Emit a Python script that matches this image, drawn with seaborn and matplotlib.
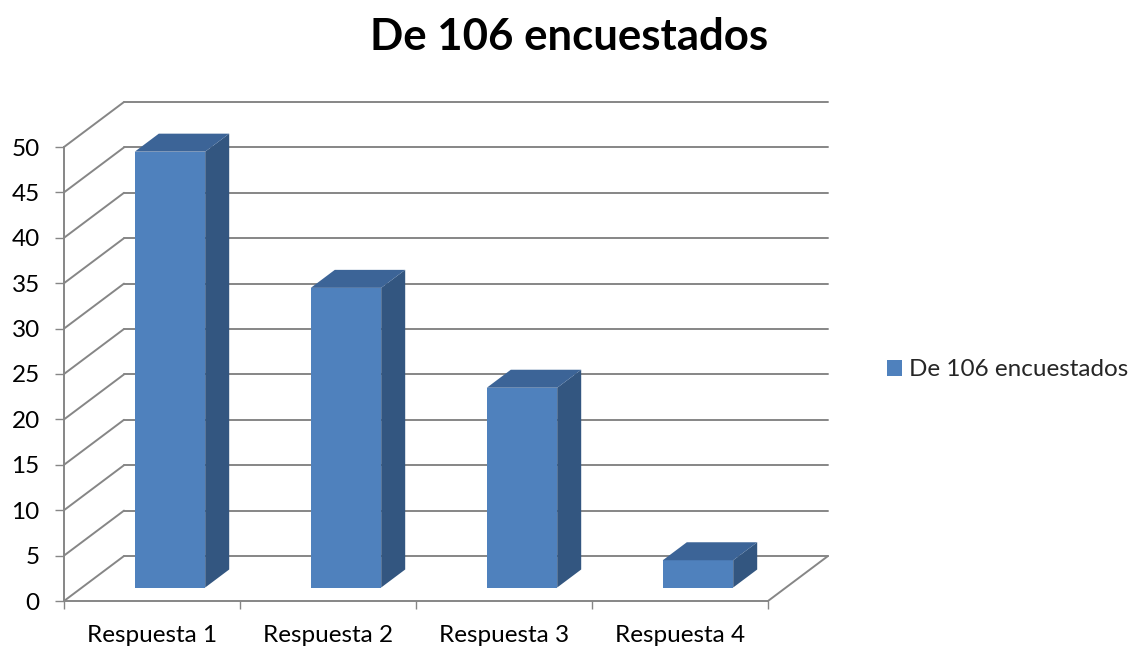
import matplotlib
matplotlib.use('Agg')
import matplotlib.pyplot as plt
from matplotlib.patches import Polygon, Patch
from matplotlib.lines import Line2D
from matplotlib.transforms import IdentityTransform
import numpy as np
import pandas as pd
import seaborn as sns

categorias = ['Respuesta 1', 'Respuesta 2', 'Respuesta 3', 'Respuesta 4']
valores = [48, 33, 22, 3]
serie = 'De 106 encuestados'
titulo = 'De 106 encuestados'
yticks = [0, 5, 10, 15, 20, 25, 30, 35, 40, 45, 50]

sns.set_theme(style='white')
plt.rcParams['font.family'] = ['Lato', 'DejaVu Sans']

W, H = 1130, 649
fig = plt.figure(figsize=(W / 100, H / 100), dpi=100)
ax = fig.add_axes([64 / W, (H - 601) / H, (768 - 64) / W, (601 - 147) / H])

df = pd.DataFrame({'categoria': categorias, 'valor': valores})
sns.barplot(data=df, x='categoria', y='valor', color='#4F81BD', width=0.4,
            saturation=1, ax=ax, zorder=5)
ax.set_xlim(-0.5, len(categorias) - 0.5)
ax.set_ylim(0, 50)

# 3D look: depth vector of the floor/walls in pixels
DEPTH = np.array([60.0, 45.0])
gris = '#868686'


def pt(x, y, d=0.0):
    p = ax.transData.transform((x, y))
    return p + d * DEPTH


def linea(p0, p1, **kw):
    ln = Line2D([p0[0], p1[0]], [p0[1], p1[1]], transform=IdentityTransform(),
                color=gris, lw=1.4, zorder=1, clip_on=False, **kw)
    fig.add_artist(ln)


x0, x1 = ax.get_xlim()
for v in yticks:
    linea(pt(x0, v, 1), pt(x1, v, 1))      # back wall
    linea(pt(x0, v, 0), pt(x0, v, 1))      # left wall
linea(pt(x1, 0, 0), pt(x1, 0, 1))          # floor right edge

# bars: front face pushed to depth 0.3, box depth 0.4
for p in list(ax.patches):
    bx, bw, bh = p.get_x(), p.get_width(), p.get_height()
    a = pt(bx, 0, 0.3)
    b = pt(bx + bw, 0, 0.3)
    c = pt(bx + bw, bh, 0.3)
    d = pt(bx, bh, 0.3)
    off = 0.4 * DEPTH
    p.set_visible(False)
    frente = Polygon([a, b, c, d], closed=True, transform=IdentityTransform(),
                     facecolor='#4F81BD', edgecolor='none', zorder=5)
    lado = Polygon([b, b + off, c + off, c], closed=True, transform=IdentityTransform(),
                   facecolor='#335680', edgecolor='none', zorder=5)
    tapa = Polygon([d, c, c + off, d + off], closed=True, transform=IdentityTransform(),
                   facecolor='#3C6497', edgecolor='none', zorder=5)
    for poly in (frente, lado, tapa):
        fig.add_artist(poly)

# axes styling
for s in ['top', 'right']:
    ax.spines[s].set_visible(False)
for s in ['left', 'bottom']:
    ax.spines[s].set_color(gris)
    ax.spines[s].set_linewidth(1.4)
ax.set_yticks(yticks)
ax.tick_params(axis='y', left=True, length=6.5, width=1.0, color=gris, pad=11,
               labelsize=17.5, labelcolor='black')
ax.set_xticks(np.arange(-0.5, len(categorias), 1.0), minor=True)
ax.tick_params(axis='x', which='minor', bottom=True, length=6, width=1.0, color=gris)
ax.tick_params(axis='x', which='major', bottom=False, length=0, pad=17,
               labelsize=17.5, labelcolor='black')
ax.set_xlabel('')
ax.set_ylabel('')
ax.patch.set_alpha(0)

fig.text(569 / W, 1 - 50 / H, titulo, ha='center', va='baseline',
         fontsize=31.5, fontweight='bold', color='black')

handle = Patch(facecolor='#4F81BD', edgecolor='none')
fig.legend([handle], [serie], loc='center left', bbox_to_anchor=(887 / W, 1 - 370 / H),
           frameon=False, fontsize=17.5, handlelength=0.6, handleheight=0.6,
           handletextpad=0.3, borderpad=0, borderaxespad=0)

fig.savefig('out.png', dpi=100)
